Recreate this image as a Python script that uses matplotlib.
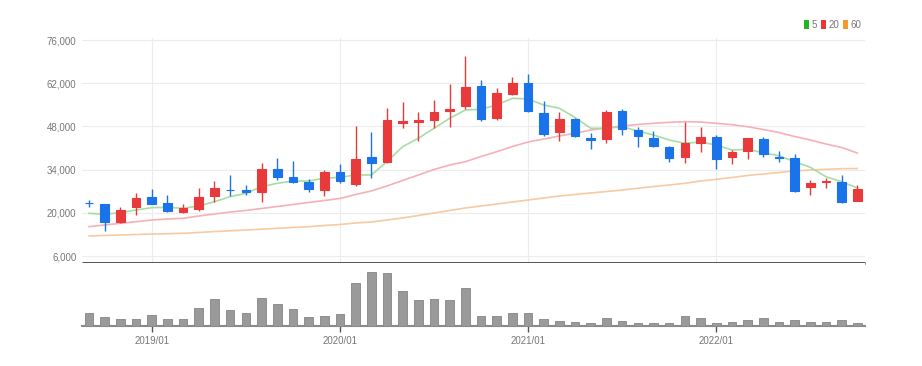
import matplotlib
matplotlib.use("Agg")
import matplotlib.pyplot as plt
from matplotlib.patches import Patch

# ---- data (monthly candles 2018/09 .. 2022/10) ----
months = ["2018/09", "2018/10", "2018/11", "2018/12"] + \
         [f"{y}/{m:02d}" for y in (2019, 2020, 2021) for m in range(1, 13)] + \
         [f"2022/{m:02d}" for m in range(1, 11)]

opens = [23200, 22770, 17130, 21800, 25230, 23090, 20200, 21150, 25450, 27550,
         27400, 26850, 34200, 31710, 30090, 27400, 33140, 29250, 38190, 36570,
         49270, 49430, 50080, 53000, 54620, 61190, 50830, 58500, 61970, 52250,
         46290, 50400, 44350, 43830, 53100, 46840, 44350, 41430, 38000, 42730,
         44670, 38190, 40040, 43830, 38190, 37670, 28280, 30090, 30090, 23930]
closes = [23030, 16940, 20920, 24710, 22860, 20600, 21470, 25230, 27950, 27240,
          26900, 34200, 31520, 29900, 27720, 33330, 30410, 37440, 36050, 50080,
          49760, 49920, 52770, 53550, 60680, 50400, 58730, 61970, 53090, 45540,
          50310, 44900, 43600, 52770, 47070, 45000, 41660, 37670, 42530, 44470,
          37350, 39620, 44350, 39060, 37870, 27170, 29770, 30410, 23610, 27720]
highs = [24160, 22900, 21990, 26530, 27630, 25780, 22750, 27950, 30320, 32260,
         29020, 36250, 37670, 36800, 30870, 33880, 35820, 48140, 46290, 53970,
         56010, 52770, 56560, 61650, 70910, 63040, 60350, 64110, 64890, 56330,
         52770, 50830, 45770, 53320, 53550, 47720, 46610, 41650, 49530, 47910,
         45220, 40360, 44400, 44480, 40130, 39060, 30640, 31190, 32260, 29020]
lows = [21890, 14120, 16800, 19300, 22800, 20180, 19850, 20600, 23610, 25500,
        25780, 23610, 30640, 29570, 26850, 25460, 29760, 28700, 31190, 36150,
        47390, 43280, 47590, 47910, 53550, 49760, 50080, 58180, 52770, 44990,
        43370, 44480, 40590, 42530, 45220, 41240, 41240, 36570, 36250, 39810,
        34110, 35730, 37350, 38190, 36570, 26850, 25780, 27950, 23090, 23930]

ma5 = [19850, 19530, 20050, 20920, 21670, 21800, 21470, 22220, 23610, 25230,
       26330, 28470, 29570, 30320, 30320, 31190, 31520, 32260, 32260, 36570,
       41430, 44150, 47390, 50630, 53320, 53550, 54940, 57110, 56880, 54940,
       53870, 50890, 47390, 47390, 47910, 46520, 45220, 43600, 42530, 42950,
       41980, 40360, 40590, 39490, 38510, 36570, 34750, 31710, 30090, 28050]
ma20 = [15510, 16060, 16610, 17130, 17680, 18000, 18230, 18980, 19620, 20270,
        20760, 21410, 22050, 22700, 23350, 24000, 24650, 25940, 27080, 28700,
        30480, 32260, 34040, 35500, 36570, 38250, 39810, 41490, 42950, 43920,
        44900, 45770, 46840, 47490, 48140, 48620, 49010, 49340, 49530, 49430,
        49010, 48560, 47910, 47000, 46030, 44730, 43600, 42300, 41170, 39390]
ma60 = [12500, 12660, 12820, 12980, 13140, 13240, 13370, 13630, 13950, 14180,
        14440, 14700, 14990, 15250, 15510, 15900, 16220, 16710, 17030, 17680,
        18330, 19140, 19950, 20760, 21570, 22220, 22860, 23510, 24160, 24810,
        25460, 25940, 26430, 26910, 27400, 27950, 28530, 29020, 29570, 30320,
        30870, 31450, 32100, 32580, 33070, 33560, 33880, 34110, 34300, 34370]
volumes = [40, 27, 22, 22, 32, 22, 22, 55, 80, 47,
           38, 85, 65, 50, 27, 30, 35, 130, 162, 160,
           105, 77, 80, 77, 115, 30, 30, 40, 40, 22,
           15, 12, 10, 25, 15, 10, 8, 8, 30, 25,
           10, 12, 18, 25, 12, 18, 12, 12, 18, 10]

price_ticks = [6000, 20000, 34000, 48000, 62000, 76000]
year_labels = ["2019/01", "2020/01", "2021/01", "2022/01"]

# ---- style ----
UP = "#e83a3a"
DOWN = "#1a73e8"
C5, C20, C60 = "#a6dea2", "#f6b0b6", "#f8caa2"
FONT = ["Liberation Sans", "DejaVu Sans"]
plt.rcParams["font.family"] = FONT

W, H = 922, 366
fig = plt.figure(figsize=(W / 100, H / 100), dpi=100)
left, right = 82 / W, 865 / W
ax = fig.add_axes([left, 1 - 263 / H, right - left, (263 - 38) / H])
axv = fig.add_axes([left, 1 - 326 / H, right - left, (326 - 263) / H], sharex=ax)

x = list(range(len(months)))
body_w = 0.55

for i in x:
    o, c, h, l = opens[i], closes[i], highs[i], lows[i]
    col = UP if c >= o else DOWN
    ax.vlines(i, l, h, color=col, linewidth=1.0, zorder=3)
    ax.bar(i, abs(c - o), bottom=min(o, c), width=body_w, color=col,
           edgecolor=col, linewidth=0.8, zorder=4)

ax.plot(x, ma60, color=C60, linewidth=1.2, zorder=2)
ax.plot(x, ma20, color=C20, linewidth=1.2, zorder=2)
ax.plot(x, ma5, color=C5, linewidth=1.2, zorder=2)

ax.set_ylim(3748, 76648)
ax.set_xlim(-0.45, len(months) - 1 + 0.49)
ax.set_yticks(price_ticks)
ax.set_yticklabels([f"{v:,}" for v in price_ticks])
ax.tick_params(axis="y", length=0, labelsize=7, colors="#777777", pad=4)
ax.tick_params(axis="x", length=0, labelbottom=False)
year_idx = [months.index(lbl) for lbl in year_labels]
ax.set_xticks(year_idx)
ax.grid(True, color="#ececec", linewidth=0.8, zorder=0)
for s in ("top", "right", "left"):
    ax.spines[s].set_visible(False)
ax.spines["bottom"].set_color("#222222")
ax.spines["bottom"].set_linewidth(1.8)
ax.spines["bottom"].set_capstyle("butt")

# volume
axv.bar(x, volumes, width=body_w, color="#9a9a9a", edgecolor="#858585",
        linewidth=0.6, zorder=3)
axv.set_ylim(0, 189)
axv.set_yticks([])
for s in ("top", "right", "left"):
    axv.spines[s].set_visible(False)
axv.spines["bottom"].set_color("#8a8a8a")
axv.spines["bottom"].set_linewidth(1.5)
axv.set_xticks(year_idx)
axv.set_xticklabels(year_labels)
axv.tick_params(axis="x", length=4, width=1, color="#555555",
                labelsize=7, labelcolor="#777777", pad=3)

# legend
handles = [Patch(facecolor="#22b722", label="5"),
           Patch(facecolor="#ee3333", label="20"),
           Patch(facecolor="#f39a2b", label="60")]
fig.legend(handles=handles, loc="upper right", bbox_to_anchor=(866 / W, 1 - 15 / H),
           ncol=3, frameon=False, handlelength=0.5, handleheight=0.9,
           handletextpad=0.25, columnspacing=0.4, borderpad=0,
           prop={"family": FONT, "size": 7}, labelcolor="#777777")

fig.savefig("out.png", dpi=100)
